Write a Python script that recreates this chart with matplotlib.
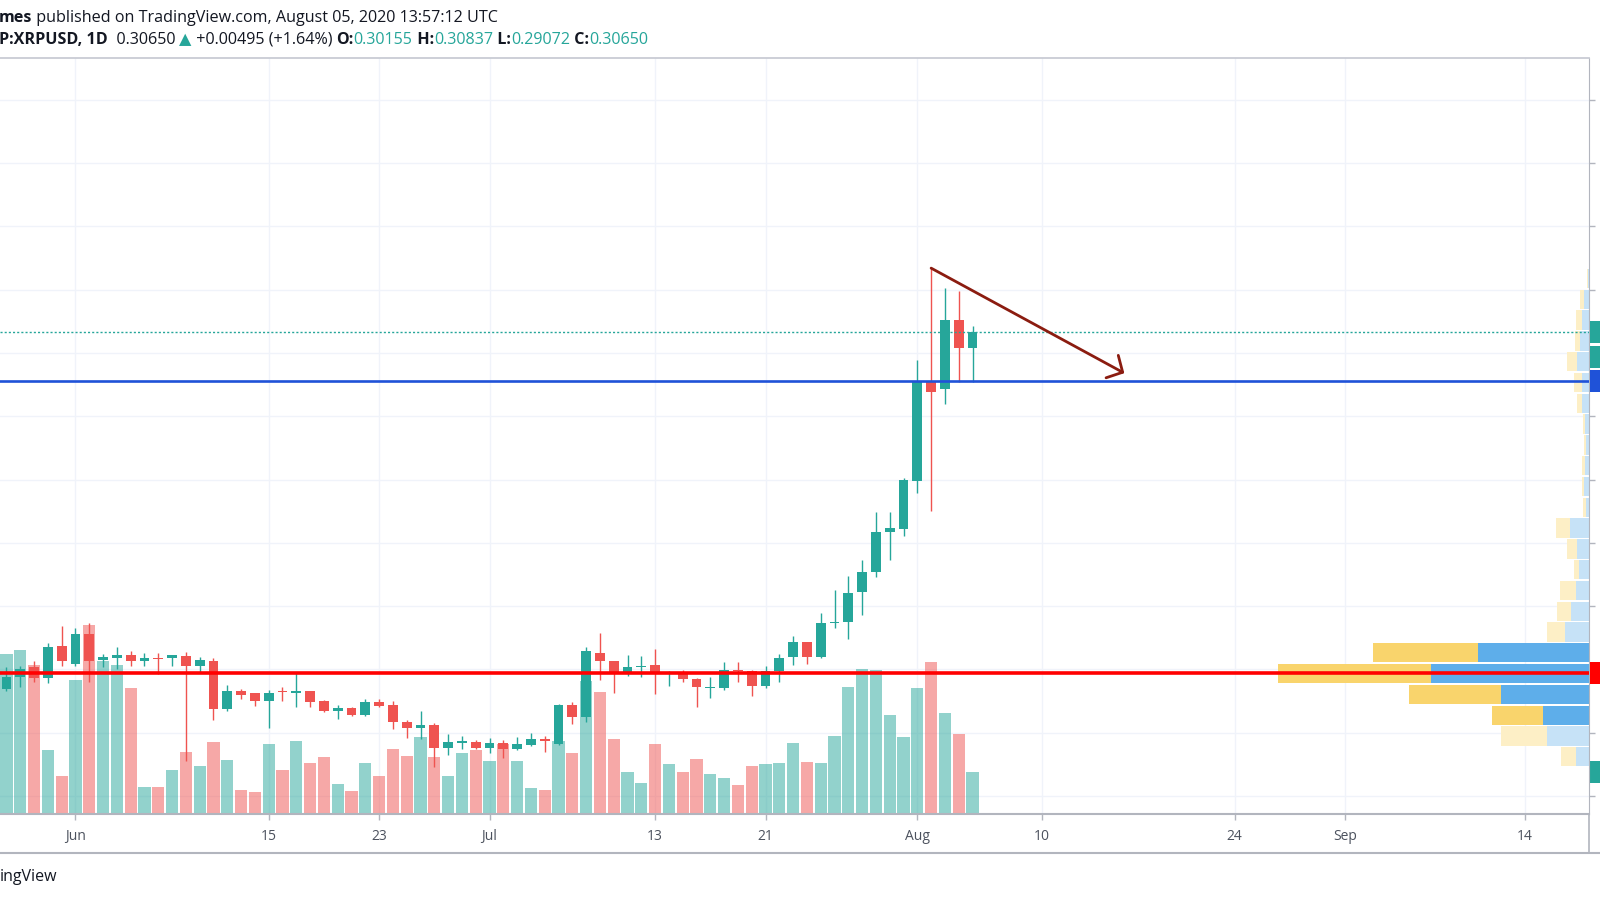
import numpy as np
import pandas as pd
import matplotlib
matplotlib.use("Agg")
import matplotlib.pyplot as plt
import matplotlib.dates as mdates
import matplotlib.transforms as mtransforms
from matplotlib.lines import Line2D
from matplotlib.patches import Rectangle

plt.rcParams["font.family"] = ["Open Sans", "DejaVu Sans"]

# BITSTAMP:XRPUSD, 1D
dates = pd.date_range("2020-05-27", "2020-08-05", freq="D")
opens = [0.1938, 0.1977, 0.2009, 0.1973, 0.2073, 0.2018, 0.2113, 0.2030, 0.2037, 0.2046,
         0.2026, 0.2037, 0.2037, 0.2042, 0.2012, 0.2028, 0.1876, 0.1933, 0.1924, 0.1899,
         0.1931, 0.1924, 0.1933, 0.1899, 0.1869, 0.1879, 0.1856, 0.1898, 0.1887, 0.1835,
         0.1814, 0.1824, 0.1750, 0.1768, 0.1771, 0.1750, 0.1766, 0.1747, 0.1760, 0.1781,
         0.1765, 0.1887, 0.1848, 0.2053, 0.2026, 0.1991, 0.2009, 0.2014, 0.1989, 0.1991,
         0.1970, 0.1942, 0.1941, 0.1998, 0.1996, 0.1946, 0.1995, 0.2040, 0.2085, 0.2039,
         0.2145, 0.2150, 0.2243, 0.2307, 0.2434, 0.2444, 0.2596, 0.2907, 0.2886, 0.3104,
         0.30155]
highs = [0.2007, 0.2012, 0.2028, 0.2084, 0.2136, 0.2131, 0.2145, 0.2049, 0.2071, 0.2058,
         0.2051, 0.2052, 0.2047, 0.2055, 0.2039, 0.2037, 0.1951, 0.1938, 0.1924, 0.1936,
         0.1943, 0.1989, 0.1933, 0.1903, 0.1887, 0.1882, 0.1906, 0.1906, 0.1901, 0.1839,
         0.1867, 0.1832, 0.1797, 0.1789, 0.1778, 0.1782, 0.1776, 0.1786, 0.1798, 0.1789,
         0.1892, 0.1898, 0.2071, 0.2116, 0.2028, 0.2047, 0.2041, 0.2065, 0.1996, 0.1998,
         0.1972, 0.1977, 0.2022, 0.2022, 0.1998, 0.2010, 0.2048, 0.2106, 0.2087, 0.2177,
         0.2251, 0.2294, 0.2347, 0.2497, 0.2497, 0.2606, 0.2979, 0.3268, 0.3204, 0.3197,
         0.30837]
lows = [0.1933, 0.1945, 0.1961, 0.1957, 0.2012, 0.2012, 0.1961, 0.2007, 0.2002, 0.2012,
        0.2012, 0.1986, 0.2012, 0.1710, 0.1991, 0.1840, 0.1867, 0.1906, 0.1884, 0.1816,
        0.1899, 0.1880, 0.1880, 0.1864, 0.1842, 0.1853, 0.1853, 0.1882, 0.1813, 0.1784,
        0.1781, 0.1691, 0.1729, 0.1747, 0.1747, 0.1736, 0.1720, 0.1744, 0.1758, 0.1739,
        0.1761, 0.1827, 0.1835, 0.1967, 0.1924, 0.1978, 0.1977, 0.1922, 0.1949, 0.1961,
        0.1880, 0.1911, 0.1936, 0.1959, 0.1917, 0.1941, 0.1960, 0.2014, 0.2018, 0.2037,
        0.2130, 0.2097, 0.2171, 0.2293, 0.2346, 0.2420, 0.2556, 0.2499, 0.2838, 0.2907,
        0.29072]
closes = [0.1977, 0.2002, 0.1973, 0.2071, 0.2025, 0.2113, 0.2028, 0.2039, 0.2044, 0.2028,
          0.2036, 0.2033, 0.2044, 0.2012, 0.2030, 0.1876, 0.1933, 0.1920, 0.1899, 0.1924,
          0.1927, 0.1933, 0.1896, 0.1869, 0.1879, 0.1856, 0.1896, 0.1885, 0.1834, 0.1814,
          0.1823, 0.1752, 0.1770, 0.1774, 0.1750, 0.1766, 0.1747, 0.1763, 0.1781, 0.1774,
          0.1888, 0.1850, 0.2058, 0.2026, 0.1988, 0.2009, 0.2012, 0.1988, 0.1992, 0.1970,
          0.1943, 0.1945, 0.1998, 0.1994, 0.1946, 0.1996, 0.2035, 0.2085, 0.2040, 0.2148,
          0.2151, 0.2242, 0.2307, 0.2434, 0.2447, 0.2598, 0.2907, 0.2876, 0.3104, 0.30155,
          0.30650]
# daily volume, millions of XRP
volumes = [80.0, 82.0, 74.7, 31.9, 18.9, 67.2, 94.5, 76.4, 74.7, 63.0,
           13.4, 13.7, 22.0, 31.2, 24.2, 36.2, 27.0, 12.2, 11.0, 35.0,
           22.0, 36.4, 25.4, 28.4, 15.0, 11.4, 25.4, 19.2, 32.5, 29.2,
           38.4, 28.7, 19.2, 30.4, 32.0, 26.7, 35.0, 26.4, 13.0, 12.2,
           36.4, 30.4, 66.7, 61.2, 37.5, 21.2, 15.5, 35.0, 24.9, 20.9,
           27.7, 19.9, 18.2, 14.7, 23.9, 25.0, 25.5, 35.4, 25.9, 25.5,
           38.9, 63.7, 72.5, 72.2, 49.5, 38.7, 62.9, 76.2, 50.4, 40.0,
           20.9]

# volume profile of the visible range, 24 rows from lowest low to highest high
profile_up = [6.7, 21.0, 23.2, 43.9, 79.2, 55.5, 11.9, 9.2, 6.5, 5.0, 6.0, 9.5,
              1.5, 2.4, 2.2, 1.5, 1.9, 3.5, 3.5, 6.0, 4.5, 3.4, 2.5, 0.7]
profile_down = [7.4, 22.9, 25.5, 46.2, 76.7, 52.7, 9.3, 6.7, 8.0, 2.5, 5.0, 7.2,
                1.4, 1.0, 1.2, 1.0, 1.0, 2.4, 4.0, 5.0, 2.7, 3.2, 2.0, 0.3]
value_area_rows = (2, 5)

support = 0.1988
resistance = 0.2910
arrow_from = pd.Timestamp("2020-08-02")
arrow_to = (pd.Timestamp("2020-08-16"), 0.2936)

tick_dates = ["2020-06-01", "2020-06-15", "2020-06-23", "2020-07-01", "2020-07-13",
              "2020-07-21", "2020-08-01", "2020-08-10", "2020-08-24", "2020-09-01",
              "2020-09-14"]
tick_labels = ["Jun", "15", "23", "Jul", "13", "21", "Aug", "10", "24", "Sep", "14"]

UP = "#26a69a"
DOWN = "#ef5350"
GRID = "#f0f3fa"
FRAME = "#b2b5be"
TEXT = "#131722"

W, H = 1600, 900
fig = plt.figure(figsize=(16, 9), dpi=100)
rect = [0, 1 - 814 / H, 1589 / W, (814 - 58) / H]

ax = fig.add_axes(rect, zorder=3)
axbg = fig.add_axes(rect, zorder=0, sharex=ax, sharey=ax)
axp = fig.add_axes(rect, zorder=1, sharey=ax)
axv = fig.add_axes(rect, zorder=2, sharex=ax)
for a in (ax, axp, axv):
    a.set_facecolor("none")
axbg.set_facecolor("white")

x = mdates.date2num(dates)
o, h, l, c = map(np.asarray, (opens, highs, lows, closes))
rising = c >= o
colors = np.where(rising, UP, DOWN)

# candles
ax.vlines(x, l, h, colors=colors, lw=1.0, zorder=3)
ax.bar(x, np.maximum(np.abs(c - o), 0.0003), bottom=np.minimum(o, c), width=0.72,
       color=colors, linewidth=0, zorder=4)

# volume
axv.bar(x, volumes, width=0.88, color=colors, alpha=0.5, linewidth=0)
axv.set_ylim(0, max(volumes) * 4.0)

# volume profile, anchored on the price scale
n = len(profile_up)
lo, hi = l.min(), h.max()
step = (hi - lo) / n
rows = lo + step * (np.arange(n) + 0.5)
in_va = (np.arange(n) >= value_area_rows[0]) & (np.arange(n) <= value_area_rows[1])
pu = np.asarray(profile_up)
pdn = np.asarray(profile_down)
axp.barh(rows, pu, left=0, height=step * 0.93, linewidth=0,
         color=np.where(in_va, "#5eaeea", "#c6e2f7"))
axp.barh(rows, pdn, left=pu, height=step * 0.93, linewidth=0,
         color=np.where(in_va, "#f9d46c", "#fdefc6"))
axp.set_xlim((pu + pdn).max() / 0.196, 0)

# horizontal levels
ax.axhline(support, color="#ff0000", lw=2.6, zorder=5)
ax.axhline(resistance, color="#1f52d8", lw=1.9, zorder=5)
ax.axhline(c[-1], color=UP, lw=1.0, ls=(0, (1.5, 1.5)), zorder=5)

# drawn arrow
i_from = list(dates).index(arrow_from)
ax.annotate("", xy=(mdates.date2num(arrow_to[0]), arrow_to[1]),
            xytext=(x[i_from], h[i_from]),
            arrowprops=dict(arrowstyle="->,head_length=0.86,head_width=0.92",
                            color="#8b1c10", lw=2.0, shrinkA=0, shrinkB=0,
                            mutation_scale=10), zorder=6)

# scales
ax.set_xlim(x[0] - 0.47, x[0] + 114.67)
ax.set_ylim(0.1543, 0.3932)
ax.set_xticks(mdates.date2num(pd.to_datetime(tick_dates)))
ax.set_xticklabels(tick_labels)
ax.set_yticks(np.arange(0.16, 0.381, 0.02))
ax.yaxis.tick_right()
ax.tick_params(axis="x", length=4, width=1, color=FRAME, pad=7, labelsize=10,
               labelcolor="#4c525e")
ax.tick_params(axis="y", length=4, width=1, color=FRAME, labelright=False, labelleft=False)
ax.spines["left"].set_visible(False)
ax.spines["top"].set_color("#c9ccd4")
ax.spines["top"].set_linewidth(1.3)
ax.spines["right"].set_color(FRAME)
ax.spines["bottom"].set_color(FRAME)
ax.spines["bottom"].set_linewidth(1.5)

axbg.grid(True, color=GRID, lw=1)
axbg.tick_params(length=0, labelbottom=False, labelleft=False)
for a in (axbg, axp, axv):
    for s in a.spines.values():
        s.set_visible(False)
axp.set_xticks([])
axp.tick_params(length=0, labelleft=False)
axv.set_yticks([])
axv.tick_params(length=0, labelbottom=False)

# price scale label boxes, cut by the right edge of the image
def edge_box(a, y, color, shift=0.0):
    y0, y1 = a.get_ylim()
    box_h = (y1 - y0) * 22 / (814 - 58)
    tr = mtransforms.blended_transform_factory(a.transAxes, a.transData)
    a.add_patch(Rectangle((1.0008, y - box_h / 2 + shift * box_h), 0.02, box_h,
                          transform=tr, facecolor=color, edgecolor="none",
                          clip_on=False, zorder=10))

edge_box(ax, c[-1], UP)
edge_box(ax, c[-1], UP, shift=-1.1)
edge_box(ax, resistance, "#1f52d8")
edge_box(ax, support, "#ff0000")
edge_box(axv, volumes[-1], UP)

# frame below the time scale
fig.add_artist(Line2D([0, 1], [1 - 853 / H] * 2, transform=fig.transFigure, color=FRAME, lw=1.5))
fig.add_artist(Line2D([1589 / W] * 2, [1 - 853 / H, 1 - 814 / H], transform=fig.transFigure,
                      color=FRAME, lw=1.2))

# header lines
renderer = fig.canvas.get_renderer()

def text_runs(runs, x0, y0, size=11.6):
    xpos = x0
    for s, weight, color in runs:
        t = fig.text(xpos / W, 1 - y0 / H, s, fontsize=size, fontweight=weight, color=color,
                     ha="left", va="center")
        xpos += t.get_window_extent(renderer=renderer).width

text_runs([("mes", "bold", TEXT),
           (" published on TradingView.com, August 05, 2020 13:57:12 UTC", "normal", TEXT)],
          -1, 18)
chg = c[-1] - c[-2]
text_runs([("P:XRPUSD, 1D", "bold", TEXT),
           (f"  {c[-1]:.5f} ", "normal", TEXT),
           ("\u25b2", "normal", UP),
           (f" {chg:+.5f} ({chg / c[-2] * 100:+.2f}%) ", "normal", TEXT),
           ("O:", "bold", TEXT), (f"{o[-1]:.5f}", "normal", UP),
           (" H:", "bold", TEXT), (f"{h[-1]:.5f}", "normal", UP),
           (" L:", "bold", TEXT), (f"{l[-1]:.5f}", "normal", UP),
           (" C:", "bold", TEXT), (f"{c[-1]:.5f}", "normal", UP)],
          -1, 40)

fig.text(0, 1 - 877 / H, "ingView", fontsize=11.5, color=TEXT, ha="left", va="center")

fig.savefig("out.png", dpi=100)
